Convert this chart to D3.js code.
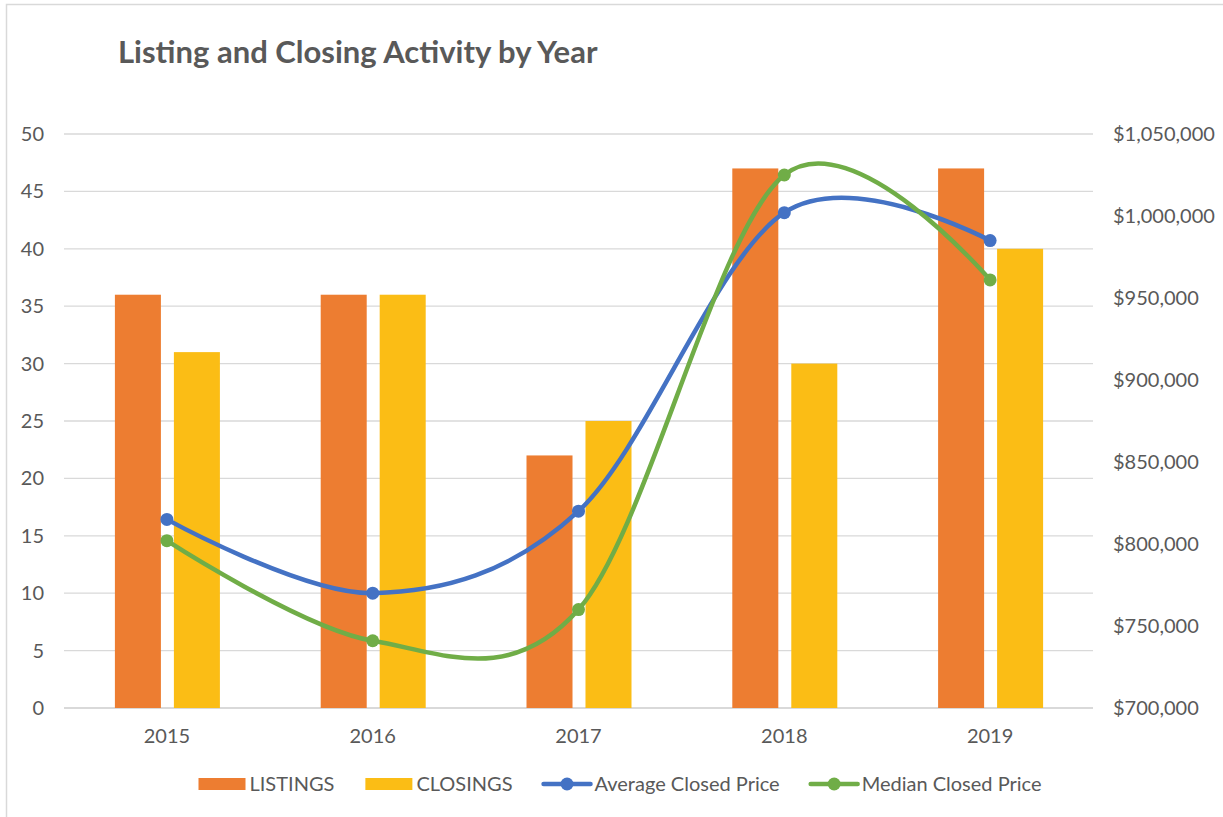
<!DOCTYPE html>
<html>
<head>
<meta charset="utf-8">
<script src="https://cdn.jsdelivr.net/npm/d3@7"></script>
<style>
  body { margin: 0; background: #fff; }
  svg text { font-family: Lato, "Open Sans", sans-serif; fill: #595959; }
</style>
</head>
<body>
<svg id="chart" width="1223" height="817"></svg>
<script>
// data
const years = ['2015', '2016', '2017', '2018', '2019'];
const listings = [36, 36, 22, 47, 47];
const closings = [31, 36, 25, 30, 40];
const avgPrice = [815000, 770000, 820000, 1002000, 985000];
const medianPrice = [802000, 741000, 760000, 1025000, 961000];
const countTicks = [0, 5, 10, 15, 20, 25, 30, 35, 40, 45, 50];
const priceTicks = [700000, 750000, 800000, 850000, 900000, 950000, 1000000, 1050000];

const colors = {
  listings: '#ED7D31',
  closings: '#FBBD15',
  avg: '#4472C4',
  median: '#70AD47'
};

const svg = d3.select('#chart');

// frame round the chart
svg.append('rect')
  .attr('x', 6.5).attr('y', 4.5)
  .attr('width', 1240).attr('height', 840)
  .attr('fill', 'none')
  .attr('stroke', '#D9D9D9')
  .attr('stroke-width', 1.5);

// title
svg.append('text')
  .attr('x', 118).attr('y', 63)
  .attr('font-size', 31)
  .attr('font-weight', 'bold')
  .text('Listing and Closing Activity by Year');

const plot = { left: 64, right: 1093, top: 134, bottom: 708 };

const x = d3.scaleBand().domain(years).range([plot.left, plot.right]);
const xInner = d3.scaleBand().domain(['listings', 'closings'])
  .range([-52, 53]).paddingInner(0.22);

const y = d3.scaleLinear().domain([0, 50]).range([plot.bottom, plot.top]);
const y2 = d3.scaleLinear().domain([700000, 1050000]).range([plot.bottom, plot.top]);

// gridlines
svg.append('g')
  .selectAll('line')
  .data(countTicks)
  .join('line')
    .attr('x1', plot.left).attr('x2', plot.right)
    .attr('y1', d => y(d)).attr('y2', d => y(d))
    .attr('stroke', '#D9D9D9')
    .attr('stroke-width', d => d === 0 ? 2 : 1.3);

// left axis
const yAxis = svg.append('g')
  .attr('transform', 'translate(' + (plot.left - 20) + ',0)')
  .call(d3.axisLeft(y).tickValues(countTicks).tickSize(0).tickPadding(0));
yAxis.select('.domain').remove();
yAxis.selectAll('text').attr('font-size', 20).attr('font-family', null).attr('fill', null);

// right axis
const y2Axis = svg.append('g')
  .attr('transform', 'translate(' + (plot.right + 20) + ',0)')
  .call(d3.axisRight(y2).tickValues(priceTicks).tickSize(0).tickPadding(0)
    .tickFormat(d3.format('$,.0f')));
y2Axis.select('.domain').remove();
y2Axis.selectAll('text').attr('font-size', 20).attr('font-family', null).attr('fill', null);

// bottom axis
const xAxis = svg.append('g')
  .attr('transform', 'translate(0,' + plot.bottom + ')')
  .call(d3.axisBottom(x).tickSize(0).tickPadding(21));
xAxis.select('.domain').remove();
xAxis.selectAll('text').attr('font-size', 20).attr('font-family', null).attr('fill', null);

// bars
const barData = years.map((yr, i) => ({ year: yr, listings: listings[i], closings: closings[i] }));
svg.append('g')
  .selectAll('g')
  .data(barData)
  .join('g')
    .attr('transform', d => 'translate(' + (x(d.year) + x.bandwidth() / 2) + ',0)')
  .selectAll('rect')
  .data(d => ['listings', 'closings'].map(k => ({ key: k, value: d[k] })))
  .join('rect')
    .attr('x', d => xInner(d.key))
    .attr('width', xInner.bandwidth())
    .attr('y', d => y(d.value))
    .attr('height', d => y(0) - y(d.value))
    .attr('fill', d => colors[d.key]);

// smoothed price lines
const cx = d => x(d.year) + x.bandwidth() / 2;
const priceLine = d3.line()
  .x(cx)
  .y(d => y2(d.value))
  .curve(d3.curveCardinal.tension(0));

const series = [
  { key: 'avg', values: years.map((yr, i) => ({ year: yr, value: avgPrice[i] })) },
  { key: 'median', values: years.map((yr, i) => ({ year: yr, value: medianPrice[i] })) }
];

series.forEach(s => {
  svg.append('path')
    .datum(s.values)
    .attr('d', priceLine)
    .attr('fill', 'none')
    .attr('stroke', colors[s.key])
    .attr('stroke-width', 4.5)
    .attr('stroke-linejoin', 'round');
  svg.append('g')
    .selectAll('circle')
    .data(s.values)
    .join('circle')
      .attr('cx', cx)
      .attr('cy', d => y2(d.value))
      .attr('r', 6.5)
      .attr('fill', colors[s.key]);
});

// legend
const legendItems = [
  { key: 'listings', label: 'LISTINGS', type: 'bar' },
  { key: 'closings', label: 'CLOSINGS', type: 'bar' },
  { key: 'avg', label: 'Average Closed Price', type: 'line' },
  { key: 'median', label: 'Median Closed Price', type: 'line' }
];
const legend = svg.append('g');
const legendY = 784;
const legendGap = 31;
let lx = 0;
legendItems.forEach(item => {
  const g = legend.append('g').attr('transform', 'translate(' + lx + ',0)');
  if (item.type === 'bar') {
    g.append('rect')
      .attr('x', 0).attr('y', legendY - 6)
      .attr('width', 47).attr('height', 12)
      .attr('fill', colors[item.key]);
  } else {
    g.append('line')
      .attr('x1', 0).attr('x2', 47)
      .attr('y1', legendY).attr('y2', legendY)
      .attr('stroke', colors[item.key])
      .attr('stroke-width', 4.5)
      .attr('stroke-linecap', 'round');
    g.append('circle')
      .attr('cx', 23.5).attr('cy', legendY).attr('r', 6.5)
      .attr('fill', colors[item.key]);
  }
  const t = g.append('text')
    .attr('x', 51).attr('y', legendY)
    .attr('dy', '0.35em')
    .attr('font-size', 20)
    .text(item.label);
  lx += 51 + t.node().getComputedTextLength() + legendGap;
});
lx -= legendGap;
legend.attr('transform', 'translate(' + (620 - lx / 2) + ',0)');
</script>
</body>
</html>
